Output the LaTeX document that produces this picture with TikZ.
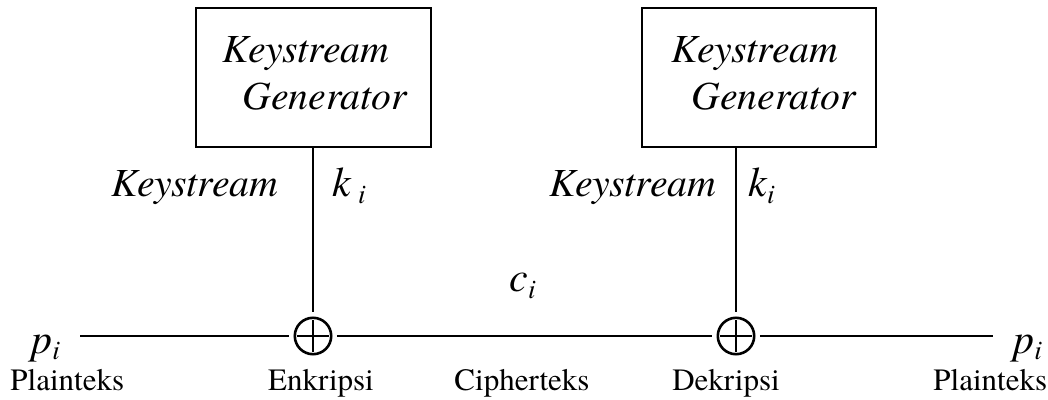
\documentclass[tikz,border=0pt]{standalone}
\usepackage{fontspec}
\setmainfont{texgyretermes}[Extension=.otf, UprightFont=*-regular, ItalicFont=*-italic, BoldFont=*-bold, BoldItalicFont=*-bolditalic]
\newcommand\mysub[1]{\raisebox{-0.35ex}{\fontsize{13.5}{15}\selectfont\itshape #1}}
\begin{document}
\begin{tikzpicture}[x=0.5pt,y=-0.5pt,
  genbox/.style={draw, line width=1pt, minimum width=117.5pt, minimum height=69.5pt, inner sep=0pt},
  kt/.style={font=\fontsize{19.9}{23}\selectfont\itshape, inner sep=0pt, anchor=base west},
  mi/.style={font=\fontsize{21}{24}\selectfont\itshape, inner sep=0pt, anchor=base west},
  lab/.style={font=\fontsize{15.5}{18}\selectfont, inner sep=0pt, anchor=base},
  labw/.style={font=\fontsize{15.5}{18}\selectfont, inner sep=0pt, anchor=base west},
  xor/.style={circle, minimum size=23.5pt, inner sep=0pt,
    path picture={
      \draw[line width=1.3pt] (path picture bounding box.center) circle[radius=9.1pt];
      \draw[line width=1.3pt] ([xshift=-8.2pt]path picture bounding box.center) -- ([xshift=8.2pt]path picture bounding box.center);
      \draw[line width=1.3pt] ([yshift=-8.2pt]path picture bounding box.center) -- ([yshift=8.2pt]path picture bounding box.center);
    }},
  conn/.style={line width=0.9pt}]
\useasboundingbox (0,0) rectangle (1048,400);

% generator boxes
\node[genbox] (g1) at (313.5,77.5) {};
\node[genbox, minimum width=117pt] (g2) at (759,77.5) {};
\node[kt] (g1a) at (222,63) {Keystream};
\node[kt] (g1b) at (242,110) {Generator};
\node[kt] (g2a) at (671,63) {Keystream};
\node[kt] (g2b) at (691,110) {Generator};

% xor nodes
\node[xor] (x1) at (313,336) {};
\node[xor] (x2) at (736,336) {};
\coordinate (ls) at (80,336);
\coordinate (re) at (993,336);

\draw[conn] (ls) -- (x1);
\draw[conn] (x1) -- (x2);
\draw[conn] (x2) -- (re);
\draw[conn] (g1.south -| x1) -- (x1);
\draw[conn] (g2.south -| x2) -- (x2);

% labels on key lines
\node[kt] (ks1) at (111,197) {Keystream};
\node[kt] (ks2) at (549,197) {Keystream};
\node[mi] (k1) at (332,197) {k\,\mysub{i}};
\node[mi] (k2) at (748,197) {k\mysub{i}};
\node[mi] (c1) at (509,292) {c\mysub{i}};

% plaintext / ciphertext
\node[mi] (p1) at (31,353) {p\mysub{i}};
\node[mi] (p2) at (1013,353) {p\mysub{i}};
\node[labw] (l1) at (10,390) {Plainteks};
\node[lab] (l2) at (321,390) {Enkripsi};
\node[lab] (l3) at (522,390) {Cipherteks};
\node[lab] (l4) at (726,390) {Dekripsi};
\node[labw] (l5) at (933,390) {Plainteks};
\end{tikzpicture}
\end{document}
